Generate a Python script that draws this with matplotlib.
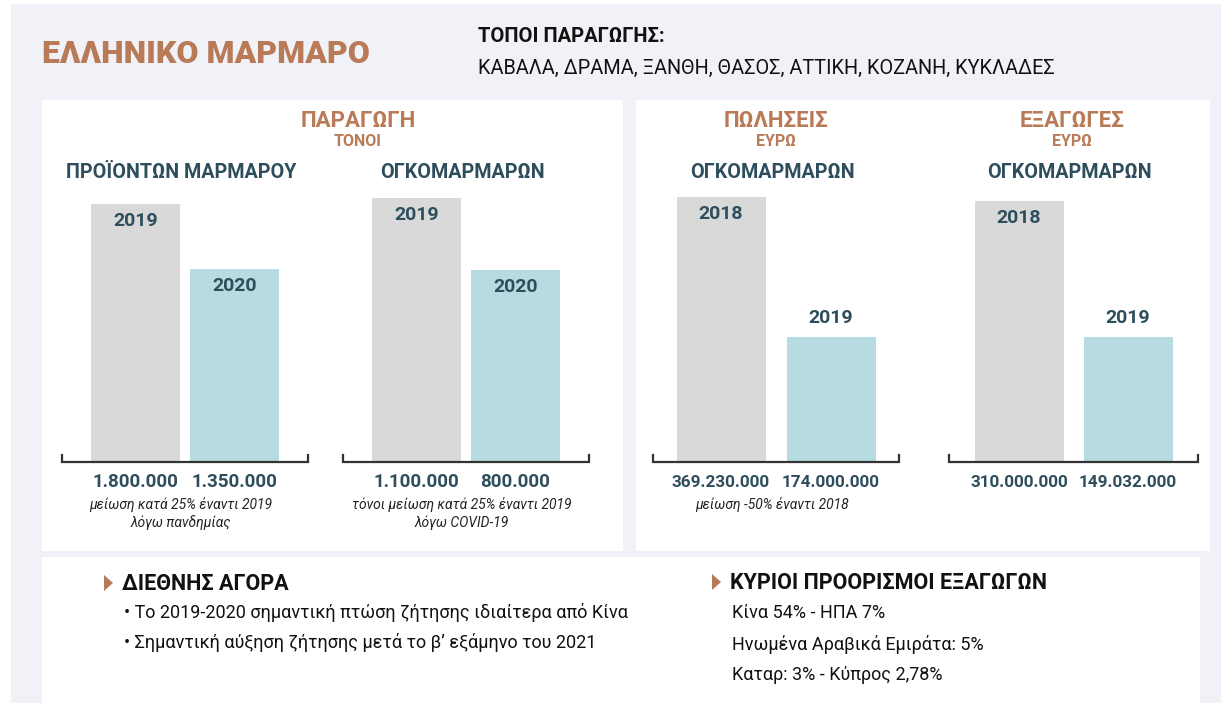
import matplotlib.pyplot as plt
from matplotlib.patches import Rectangle, Polygon

plt.rcParams['font.family'] = ['Roboto', 'DejaVu Sans']

W, H = 1221, 705

# ---- data ----
title = 'ΕΛΛΗΝΙΚΟ ΜΑΡΜΑΡΟ'
places_label = 'ΤΟΠΟΙ ΠΑΡΑΓΩΓΗΣ:'
places = 'ΚΑΒΑΛΑ, ΔΡΑΜΑ, ΞΑΝΘΗ, ΘΑΣΟΣ, ΑΤΤΙΚΗ, ΚΟΖΑΝΗ, ΚΥΚΛΑΔΕΣ'

sections = [('ΠΑΡΑΓΩΓΗ', 'ΤΟΝΟΙ'), ('ΠΩΛΗΣΕΙΣ', 'ΕΥΡΩ'), ('ΕΞΑΓΩΓΕΣ', 'ΕΥΡΩ')]
chart_titles = ['ΠΡΟΪΟΝΤΩΝ ΜΑΡΜΑΡΟΥ', 'ΟΓΚΟΜΑΡΜΑΡΩΝ', 'ΟΓΚΟΜΑΡΜΑΡΩΝ', 'ΟΓΚΟΜΑΡΜΑΡΩΝ']
years = [['2019', '2020'], ['2019', '2020'], ['2018', '2019'], ['2018', '2019']]
values = [[1800000, 1350000], [1100000, 800000],
          [369230000, 174000000], [310000000, 149032000]]
notes = [['μείωση κατά 25% έναντι 2019', 'λόγω πανδημίας'],
         ['τόνοι μείωση κατά 25% έναντι 2019', 'λόγω COVID-19'],
         ['μείωση -50% έναντι 2018'],
         []]

market_title = 'ΔΙΕΘΝΗΣ ΑΓΟΡΑ'
market_lines = ['• Το 2019-2020 σημαντική πτώση ζήτησης ιδιαίτερα από Κίνα',
                '• Σημαντική αύξηση ζήτησης μετά το β’ εξάμηνο του 2021']
dest_title = 'ΚΥΡΙΟΙ ΠΡΟΟΡΙΣΜΟΙ ΕΞΑΓΩΓΩΝ'
dest_lines = ['Κίνα 54% - ΗΠΑ 7%',
              'Ηνωμένα Αραβικά Εμιράτα: 5%',
              'Καταρ: 3% - Κύπρος 2,78%']

# ---- style / layout (pixels) ----
TERRA = '#b97a57'
SLATE = '#2f4e5d'
BG = '#f1f2f7'
BAR_COLORS = ['#d9d9d9', '#b6dbe0']
BASE_Y = 462
BAR_W = 89
chart_spans = [(62, 308), (343, 589), (653, 899), (949, 1198)]
chart_gaps = [10, 10, 21, 20]
chart_tops = [204, 198, 197, 201]
section_x = [358, 776, 1072]


def fmt(v):
    return f'{v:,}'.replace(',', '.')


fig = plt.figure(figsize=(W / 100, H / 100), dpi=100)
bg = fig.add_axes([0, 0, 1, 1], zorder=0)
bg.set_xlim(0, W)
bg.set_ylim(H, 0)
bg.axis('off')

bg.add_patch(Rectangle((11, 4), W - 11, 699, color=BG, lw=0))
for x0, y0, x1, y1 in [(42, 100, 623, 551), (636, 100, 1210, 551), (42, 557, 1200, 703)]:
    bg.add_patch(Rectangle((x0, y0), x1 - x0, y1 - y0, color='white', lw=0))

bg.text(42, 54, title, fontsize=23, fontweight='black', color=TERRA, va='center')
bg.text(478, 37, places_label, fontsize=14.5, fontweight='bold', color='#111', va='center')
bg.text(478, 68, places, fontsize=14.3, color='#111', va='center')

for (name, unit), sx in zip(sections, section_x):
    bg.text(sx, 121, name, fontsize=16, fontweight='bold', color=TERRA, ha='center', va='center')
    bg.text(sx, 142, unit, fontsize=11.5, fontweight='bold', color=TERRA, ha='center', va='center')

for i, (x0, x1) in enumerate(chart_spans):
    cx = (x0 + x1) / 2
    bg.text(cx - 4, 173, chart_titles[i], fontsize=14.2, fontweight='bold', color=SLATE,
            ha='center', va='center')
    for j, line in enumerate(notes[i]):
        bg.text(cx - 4, 504 + 19 * j, line, fontsize=10, style='italic', color='#222',
                ha='center', va='center')

    top = chart_tops[i]
    ax = fig.add_axes([x0 / W, 1 - BASE_Y / H, (x1 - x0) / W, (BASE_Y - top) / H], zorder=2)
    step = BAR_W + chart_gaps[i]
    half = (x1 - x0) / 2 / step
    vmax = max(values[i])
    ax.bar(range(len(values[i])), values[i], width=BAR_W / step, color=BAR_COLORS)
    ax.set_xlim(0.5 - half, 0.5 + half)
    ax.set_ylim(0, vmax)
    ax.axis('off')
    tick = 7 / (BASE_Y - top)
    ax.plot([0, 0, 1, 1], [tick, 0, 0, tick], transform=ax.transAxes, color='#333',
            lw=1.6, clip_on=False, solid_joinstyle='miter')
    for k, (yr, v) in enumerate(zip(years[i], values[i])):
        inside = v / vmax > 0.6
        ax.annotate(yr, (k, v), xytext=(0, -12.5 if inside else 13.5), textcoords='offset points',
                    ha='center', va='center', fontsize=14, fontweight='bold', color=SLATE)
        label = fmt(v)
        ax.annotate(label, (k, 0), xytext=(0, -14.5), textcoords='offset points',
                    ha='center', va='center', fontsize=13.5 if len(label) < 10 else 12.3,
                    fontweight='bold', color=SLATE, annotation_clip=False)

# bottom panel
for tx, ty, head, lines, lx, dy in [(108, 583, market_title, market_lines, 124, 30),
                                     (716, 582, dest_title, dest_lines, 732, 31)]:
    bg.add_patch(Polygon([(tx - 4, ty - 8), (tx + 5, ty), (tx - 4, ty + 8)], color=TERRA, lw=0))
    bg.text(tx + 14, ty + 1, head, fontsize=15.5, fontweight='bold', color='#111', va='center')
    for j, line in enumerate(lines):
        bg.text(lx, ty + dy * (j + 1), line, fontsize=13, color='#111', va='center')

fig.savefig('out.png', dpi=100, facecolor='white')
